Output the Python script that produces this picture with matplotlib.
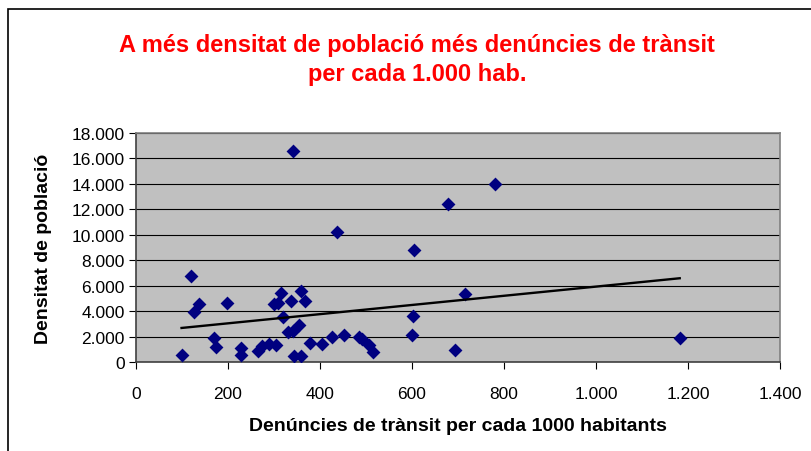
import numpy as np
import matplotlib
matplotlib.use("Agg")
import matplotlib.pyplot as plt
from matplotlib.patches import Rectangle
from matplotlib.ticker import FuncFormatter, MultipleLocator

plt.rcParams['font.family'] = ['Liberation Sans', 'DejaVu Sans']

# denúncies de trànsit per cada 1000 habitants
denuncies = [99, 120, 127, 137, 170, 175, 198, 228, 228, 266, 275, 289, 304,
             300, 309, 315, 319, 338, 341, 358, 367, 331, 342, 354, 344, 359,
             378, 404, 426, 437, 453, 484, 492, 507, 515, 599, 602, 604, 678,
             693, 781, 716, 1182]
# densitat de població
densitat = [575, 6785, 3955, 4560, 1915, 1150, 4660, 1100, 575, 890, 1280,
            1415, 1360, 4560, 4640, 5400, 3510, 4820, 16560, 5610, 4800, 2330,
            2460, 2910, 450, 450, 1520, 1390, 1990, 10200, 2100, 1990, 1810,
            1310, 760, 2100, 3590, 8800, 12420, 920, 13970, 5370, 1860]

titol = "A més densitat de població més denúncies de trànsit\nper cada 1.000 hab."
xlabel = "Denúncies de trànsit per cada 1000 habitants"
ylabel = "Densitat de població"


def miles(v, pos):
    return "{:,.0f}".format(v).replace(",", ".")


fig = plt.figure(figsize=(8.12, 4.52), dpi=100)

# marc del gràfic
fig.patches.append(Rectangle((8 / 812, -0.1), 1.2, 1 - 10 / 452 + 0.1,
                             transform=fig.transFigure, fill=False,
                             edgecolor="black", linewidth=1.2))

ax = fig.add_axes([136 / 812, 1 - 363 / 452, 644 / 812, 229 / 452])
ax.set_facecolor("#C0C0C0")

ax.scatter(denuncies, densitat, marker="D", s=50, color="#000080", zorder=3,
           linewidths=0)

# línia de tendència lineal
a, b = np.polyfit(denuncies, densitat, 1)
xs = np.array([min(denuncies), max(denuncies)])
ax.plot(xs, a * xs + b, color="black", linewidth=1.7, zorder=4)

ax.set_xlim(0, 1400)
ax.set_ylim(0, 18000)
ax.xaxis.set_major_locator(MultipleLocator(200))
ax.yaxis.set_major_locator(MultipleLocator(2000))
ax.xaxis.set_major_formatter(FuncFormatter(miles))
ax.yaxis.set_major_formatter(FuncFormatter(miles))
ax.grid(axis="y", color="black", linewidth=0.8)
ax.set_axisbelow(True)

for s in ax.spines.values():
    s.set_color("#808080")
    s.set_linewidth(1.2)
ax.spines["left"].set_color("#404040")
ax.spines["bottom"].set_color("#404040")

ax.tick_params(axis="both", direction="out", length=5, width=0.8,
               labelsize=12.5, colors="black")
ax.tick_params(axis="x", pad=12)
ax.tick_params(axis="y", pad=3)

ax.set_xlabel(xlabel, fontsize=14, fontweight="bold", labelpad=12)
ax.set_ylabel(ylabel, fontsize=14, fontweight="bold", labelpad=14)

fig.text(417 / 812, 1 - 60 / 452, titol, ha="center", va="center",
         color="red", fontsize=17, fontweight="bold", linespacing=1.35)

fig.savefig("out.png", dpi=100)
